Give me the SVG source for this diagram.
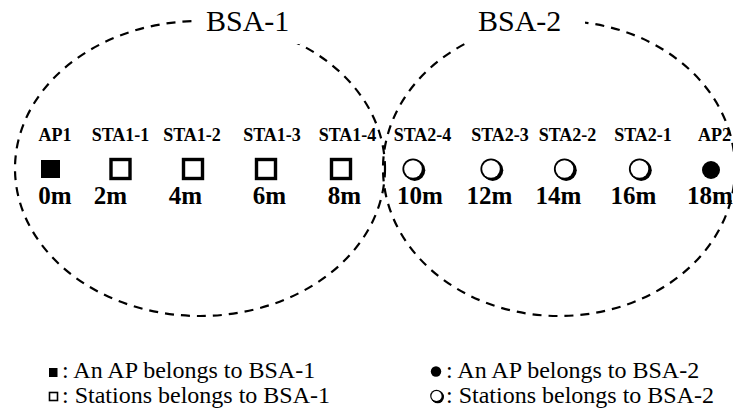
<svg xmlns="http://www.w3.org/2000/svg" width="733" height="417" viewBox="0 0 733 417">
  <style>
    .area { fill: none; stroke: #000; stroke-width: 2.2; stroke-dasharray: 9 7; }
    .bsa { font-family: "Liberation Serif", "Times New Roman", serif; font-size: 30px; fill: #000; }
    .name { font-family: "Liberation Serif", "Times New Roman", serif; font-size: 18px; font-weight: bold; text-anchor: middle; fill: #000; }
    .dist { font-family: "Liberation Serif", "Times New Roman", serif; font-size: 25px; font-weight: bold; text-anchor: middle; fill: #000; }
    .legend { font-family: "Liberation Serif", "Times New Roman", serif; font-size: 24px; fill: #000; }
    .sq-open { fill: #fff; stroke: #000; stroke-width: 3.4; }
  </style>
  <defs>
    <!-- shadowed open circle: thin rim on the upper left, heavy rim on the lower right -->
    <g id="shadowCircle">
      <circle cx="1.7" cy="1.3" r="10.6" fill="#000"/>
      <circle cx="0" cy="0" r="10.6" fill="#000"/>
      <circle cx="0" cy="0" r="8.8" fill="#fff"/>
    </g>
    <g id="shadowCircleSmall">
      <circle cx="1.2" cy="1" r="6.3" fill="#000"/>
      <circle cx="0" cy="0" r="6.3" fill="#000"/>
      <circle cx="0" cy="0" r="5.1" fill="#fff"/>
    </g>
  </defs>

  <!-- coverage areas -->
  <g id="areas">
    <ellipse id="area-bsa1" class="area" cx="200" cy="168.5" rx="185" ry="147.5"/>
    <ellipse id="area-bsa2" class="area" cx="559" cy="168.5" rx="176" ry="147.5"/>
  </g>

  <!-- area titles on white boxes -->
  <g id="title-bsa1">
    <rect x="196" y="0" width="104" height="44" fill="#fff"/>
    <text class="bsa" x="206" y="31">BSA-1</text>
  </g>
  <g id="title-bsa2">
    <rect x="469" y="0" width="116" height="42" fill="#fff"/>
    <text class="bsa" x="478" y="31">BSA-2</text>
  </g>

  <!-- BSA-1 members -->
  <g id="ap1">
    <text class="name" x="55" y="141">AP1</text>
    <rect x="41" y="160" width="19" height="18" fill="#000"/>
    <text class="dist" x="55" y="204">0m</text>
  </g>
  <g id="sta1-1">
    <text class="name" x="120.5" y="141">STA1-1</text>
    <rect class="sq-open" x="111" y="159.5" width="19" height="19"/>
    <text class="dist" x="110.5" y="204">2m</text>
  </g>
  <g id="sta1-2">
    <text class="name" x="192" y="141">STA1-2</text>
    <rect class="sq-open" x="183.5" y="159.5" width="19" height="19"/>
    <text class="dist" x="185.5" y="204">4m</text>
  </g>
  <g id="sta1-3">
    <text class="name" x="272" y="141">STA1-3</text>
    <rect class="sq-open" x="256.5" y="159.5" width="19" height="19"/>
    <text class="dist" x="269.5" y="204">6m</text>
  </g>
  <g id="sta1-4">
    <text class="name" x="347.5" y="141">STA1-4</text>
    <rect class="sq-open" x="331.5" y="159.5" width="19" height="19"/>
    <text class="dist" x="344.5" y="204">8m</text>
  </g>

  <!-- BSA-2 members -->
  <g id="sta2-4">
    <text class="name" x="422.5" y="141">STA2-4</text>
    <use href="#shadowCircle" x="413" y="169"/>
    <text class="dist" x="420" y="204">10m</text>
  </g>
  <g id="sta2-3">
    <text class="name" x="500" y="141">STA2-3</text>
    <use href="#shadowCircle" x="491" y="169"/>
    <text class="dist" x="489.5" y="204">12m</text>
  </g>
  <g id="sta2-2">
    <text class="name" x="567.5" y="141">STA2-2</text>
    <use href="#shadowCircle" x="564.5" y="169"/>
    <text class="dist" x="558.5" y="204">14m</text>
  </g>
  <g id="sta2-1">
    <text class="name" x="643" y="141">STA2-1</text>
    <use href="#shadowCircle" x="639.5" y="169"/>
    <text class="dist" x="633.5" y="204">16m</text>
  </g>
  <g id="ap2">
    <text class="name" x="714.5" y="141">AP2</text>
    <circle cx="711" cy="170" r="9" fill="#000"/>
    <text class="dist" x="710" y="204">18m</text>
  </g>

  <!-- key -->
  <g id="legend">
    <rect x="49" y="368" width="8.5" height="9" fill="#000"/>
    <text class="legend" x="62" y="378">: An AP belongs to BSA-1</text>
    <rect x="49.5" y="392.5" width="8" height="8" fill="#fff" stroke="#000" stroke-width="1.6"/>
    <text class="legend" x="62" y="403">: Stations belongs to BSA-1</text>
    <circle cx="436" cy="371.5" r="5.2" fill="#000"/>
    <text class="legend" x="446" y="378">: An AP belongs to BSA-2</text>
    <use href="#shadowCircleSmall" x="436.5" y="396"/>
    <text class="legend" x="446" y="403">: Stations belongs to BSA-2</text>
  </g>
</svg>
